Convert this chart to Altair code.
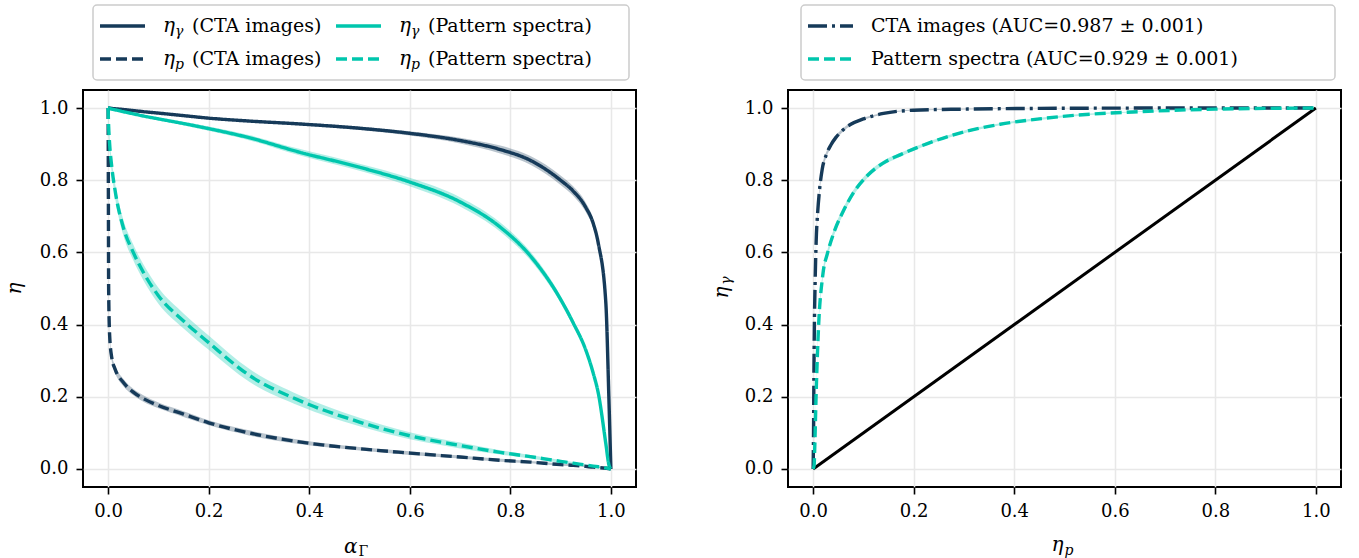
import altair as alt
import pandas as pd

# ---------------- data ----------------
# left panel: efficiencies vs. the threshold alpha_Gamma (common grid)
ALPHA = [0, 0.0005, 0.001, 0.003, 0.007, 0.014, 0.03, 0.05, 0.07, 0.1, 0.15, 0.2,
         0.28, 0.38, 0.5, 0.6, 0.7, 0.78, 0.84, 0.9, 0.925, 0.95, 0.965, 0.975, 0.99,
         0.996, 1.0]
ETA_G_CTA = [1.0, 1.0, 1.0, 1.0, 0.999, 0.998, 0.996, 0.993, 0.99, 0.986, 0.979, 0.972,
             0.964, 0.956, 0.944, 0.93, 0.91, 0.885, 0.855, 0.8, 0.77, 0.725, 0.68, 0.625,
             0.46, 0.2, 0.0]
ETA_G_PS = [1.0, 1.0, 1.0, 0.999, 0.997, 0.995, 0.99, 0.984, 0.978, 0.97, 0.957, 0.943,
            0.918, 0.878, 0.836, 0.795, 0.74, 0.67, 0.59, 0.47, 0.405, 0.33, 0.265, 0.21,
            0.07, 0.012, 0.0]
ETA_P_CTA = [1.0, 0.75, 0.5, 0.37, 0.31, 0.276, 0.24, 0.213, 0.195, 0.176, 0.152, 0.128,
             0.1, 0.075, 0.056, 0.044, 0.033, 0.024, 0.019, 0.012, 0.01, 0.007, 0.005, 0.004,
             0.002, 0.001, 0.0]
ETA_P_PS = [1.0, 0.97, 0.95, 0.9, 0.84, 0.77, 0.67, 0.6, 0.545, 0.48, 0.41, 0.35,
            0.26, 0.19, 0.13, 0.092, 0.065, 0.046, 0.034, 0.021, 0.016, 0.011, 0.008, 0.006,
            0.003, 0.001, 0.0]
# half-widths of the uncertainty bands
ERR_G_CTA = [0, 0, 0, 0, 0, 0, 0.001, 0.002, 0.002, 0.002, 0.003, 0.003,
             0.003, 0.004, 0.005, 0.006, 0.008, 0.011, 0.012, 0.013, 0.013, 0.013, 0.012, 0.01,
             0.006, 0.003, 0]
ERR_G_PS = [0, 0, 0, 0, 0, 0.001, 0.002, 0.003, 0.003, 0.004, 0.005, 0.006,
            0.007, 0.009, 0.01, 0.012, 0.013, 0.013, 0.012, 0.01, 0.009, 0.008, 0.007, 0.006,
            0.004, 0.002, 0]
ERR_P_CTA = [0, 0.01, 0.01, 0.01, 0.01, 0.01, 0.01, 0.009, 0.009, 0.008, 0.008, 0.007,
             0.007, 0.006, 0.005, 0.005, 0.004, 0.004, 0.003, 0.003, 0.002, 0.002, 0.002, 0.002,
             0.001, 0.001, 0]
ERR_P_PS = [0, 0.01, 0.012, 0.015, 0.018, 0.02, 0.022, 0.022, 0.022, 0.022, 0.021, 0.02,
            0.018, 0.015, 0.012, 0.01, 0.008, 0.006, 0.005, 0.004, 0.003, 0.003, 0.002, 0.002,
            0.001, 0.001, 0]

LEFT_SERIES = ["eta_gamma CTA", "eta_gamma PS", "eta_p CTA", "eta_p PS"]
# legend entries: (subscript, description), laid out in two columns
LEFT_LEGEND = [("γ", "(CTA images)"), ("γ", "(Pattern spectra)"),
               ("p", "(CTA images)"), ("p", "(Pattern spectra)")]

# right panel: ROC curves (eta_p, eta_gamma)
ROC_CTA_P = [0, 0.0008, 0.0015, 0.0025, 0.004, 0.006, 0.009, 0.0125, 0.018, 0.026, 0.035,
             0.045, 0.06, 0.075, 0.1, 0.14, 0.2, 0.3, 0.45, 0.7, 1.0]
ROC_CTA_G = [0, 0.1, 0.25, 0.4, 0.52, 0.63, 0.71, 0.77, 0.83, 0.87, 0.897,
             0.918, 0.94, 0.955, 0.97, 0.985, 0.994, 0.997, 0.999, 1.0, 1.0]
ROC_CTA_ERR = [0, 0.004, 0.006, 0.008, 0.01, 0.01, 0.01, 0.01, 0.009, 0.008, 0.007,
               0.006, 0.005, 0.004, 0.003, 0.002, 0.001, 0.001, 0, 0, 0]
ROC_PS_P = [0, 0.002, 0.003, 0.006, 0.0105, 0.019, 0.029, 0.04, 0.062, 0.08, 0.108, 0.14,
            0.174, 0.24, 0.306, 0.372, 0.45, 0.55, 0.65, 0.8, 1.0]
ROC_PS_G = [0, 0.01, 0.05, 0.21, 0.386, 0.535, 0.6, 0.65, 0.72, 0.765, 0.813, 0.848,
            0.871, 0.908, 0.936, 0.955, 0.97, 0.983, 0.99, 0.997, 1.0]
ROC_PS_ERR = [0, 0.004, 0.006, 0.008, 0.01, 0.01, 0.01, 0.01, 0.009, 0.008, 0.007, 0.006,
              0.005, 0.004, 0.004, 0.003, 0.003, 0.002, 0.001, 0.001, 0]
RIGHT_SERIES = ["CTA images (AUC=0.987 ± 0.001)", "Pattern spectra (AUC=0.929 ± 0.001)"]
CHANCE = [0.0, 1.0]

TICKS = [0.0, 0.2, 0.4, 0.6, 0.8, 1.0]

# ---------------- style ----------------
NAVY = "#163a59"
TEAL = "#00c6ad"
FONT = "DejaVu Serif"
W, H = 553, 397
DOM = [-0.05, 1.05]
SOLID, DASH, DASHDOT = [1, 0], [11, 5], [19, 5, 3, 5]
LW = 3.4
LEG_FS = 19


def long_table(xs, curves, names, errs):
    rows = []
    for name, ys, es, xv in zip(names, curves, errs, xs):
        for i, (x, y, e) in enumerate(zip(xv, ys, es)):
            rows.append({"s": name, "x": x, "y": y, "lo": y - e, "hi": y + e, "i": i})
    return pd.DataFrame(rows)


left_df = long_table([ALPHA] * 4, [ETA_G_CTA, ETA_G_PS, ETA_P_CTA, ETA_P_PS], LEFT_SERIES,
                     [ERR_G_CTA, ERR_G_PS, ERR_P_CTA, ERR_P_PS])
right_df = long_table([ROC_CTA_P, ROC_PS_P], [ROC_CTA_G, ROC_PS_G], RIGHT_SERIES,
                      [ROC_CTA_ERR, ROC_PS_ERR])
chance_df = pd.DataFrame({"x": CHANCE, "y": CHANCE})
ONE = pd.DataFrame({"k": [0]})


def axis():
    return alt.Axis(values=TICKS, format=".1f", title=None)


def sc():
    return alt.Scale(domain=DOM, nice=False, zero=False)


def panel(df, series, colors, dashes):
    band = alt.Chart(df).mark_area(opacity=0.3, interpolate="monotone").encode(
        x=alt.X("x:Q", scale=sc(), axis=axis()),
        y=alt.Y("lo:Q", scale=sc(), axis=axis()),
        y2="hi:Q",
        fill=alt.Fill("s:N", scale=alt.Scale(domain=series, range=colors), legend=None),
        detail="s:N",
    )
    line = alt.Chart(df).mark_line(strokeWidth=LW, interpolate="monotone").encode(
        x=alt.X("x:Q", scale=sc(), axis=axis()),
        y=alt.Y("y:Q", scale=sc(), axis=axis()),
        stroke=alt.Stroke("s:N", scale=alt.Scale(domain=series, range=colors), legend=None),
        strokeDash=alt.StrokeDash("s:N", scale=alt.Scale(domain=series, range=dashes),
                                  legend=None),
        order="i:Q",
    )
    return band, line


def label(text, x, y, size=20, angle=0, align="center", italic=True):
    return alt.Chart(pd.DataFrame({"t": [text]})).mark_text(
        font=FONT, fontSize=size, fontStyle="italic" if italic else "normal",
        angle=angle, align=align, baseline="middle", color="black",
    ).encode(text="t:N", x=alt.value(x), y=alt.value(y))


def legend_frame(x0, x1, y0, y1):
    return alt.Chart(ONE).mark_rect(
        fill="white", stroke="#cccccc", strokeWidth=1.5, cornerRadius=4,
    ).encode(x=alt.value(x0), x2=alt.value(x1), y=alt.value(y0), y2=alt.value(y1))


def legend_symbol(x, y, color, dash):
    return alt.Chart(ONE).mark_rule(color=color, strokeWidth=LW, strokeDash=dash).encode(
        x=alt.value(x), x2=alt.value(x + 45), y=alt.value(y))


# ---------------- left panel ----------------
lb, ll = panel(left_df, LEFT_SERIES, [NAVY, TEAL, NAVY, TEAL], [SOLID, SOLID, DASH, DASH])
left_layers = [lb, ll, legend_frame(10, 546, -85, -10)]
l_colors = [NAVY, TEAL, NAVY, TEAL]
l_dashes = [SOLID, SOLID, DASH, DASH]
for k, (sub, desc) in enumerate(LEFT_LEGEND):
    cx = 17 + 236 * (k % 2)
    cy = -64 + 33 * (k // 2)
    left_layers += [
        legend_symbol(cx, cy, l_colors[k], l_dashes[k]),
        label("η", cx + 63, cy, size=20, align="left"),
        label(sub, cx + 75, cy + 6, size=14, align="left"),
        label(desc, cx + 92, cy, size=LEG_FS, align="left", italic=False),
    ]
left_layers += [
    label("α", W / 2 - 2, H + 60, align="right"),
    label("Γ", W / 2 - 1, H + 65, size=14, align="left", italic=False),
    label("η", -68, H / 2, angle=270),
]
left = alt.layer(*left_layers).properties(width=W, height=H)

# ---------------- right panel ----------------
rb, rl = panel(right_df, RIGHT_SERIES, [NAVY, TEAL], [DASHDOT, DASH])
diag = alt.Chart(chance_df).mark_line(color="black", strokeWidth=3).encode(
    x=alt.X("x:Q", scale=sc(), axis=axis()),
    y=alt.Y("y:Q", scale=sc(), axis=axis()),
)
right_layers = [diag, rb, rl, legend_frame(13, 547, -85, -10)]
for k, (name, color, dash) in enumerate(zip(RIGHT_SERIES, [NAVY, TEAL], [DASHDOT, DASH])):
    cy = -64 + 33 * k
    right_layers += [
        legend_symbol(20, cy, color, dash),
        label(name, 83, cy, size=LEG_FS, align="left", italic=False),
    ]
right_layers += [
    label("η", W / 2 - 1, H + 58, align="right"),
    label("p", W / 2, H + 64, size=14, align="left"),
    label("η", -66, H / 2 + 4, angle=270),
    label("γ", -61, H / 2 - 8, size=14, angle=270),
]
right = alt.layer(*right_layers).properties(width=W, height=H)

chart = alt.hconcat(left, right, spacing=74).resolve_scale(
    stroke="independent", strokeDash="independent", fill="independent",
    x="independent", y="independent",
).properties(
    padding={"left": 4, "top": 3, "right": 5, "bottom": 0},
).configure_view(
    stroke="black", strokeWidth=2,
).configure_axis(
    labelFont=FONT, labelFontSize=18, labelColor="black", domain=False,
    tickColor="black", tickWidth=1.6, tickSize=7, labelPadding=8,
    grid=True, gridColor="#e8e8e8", gridWidth=1.5,
)

chart.save("out.html", embed_options={"renderer": "svg", "actions": False})
